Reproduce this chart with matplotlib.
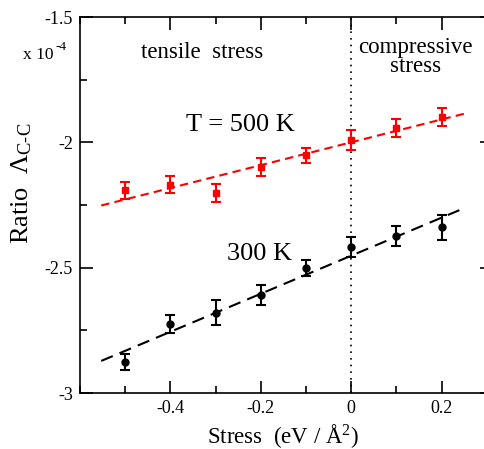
import matplotlib
matplotlib.use("Agg")
import matplotlib.pyplot as plt
from matplotlib.ticker import MultipleLocator, FuncFormatter, FixedLocator

# Data (values in units of 1e-4)
stress = [-0.5, -0.4, -0.3, -0.2, -0.1, 0.0, 0.1, 0.2]
ratio_500 = [-2.192, -2.169, -2.203, -2.099, -2.052, -1.989, -1.943, -1.899]
err_500 = [0.033, 0.035, 0.035, 0.035, 0.030, 0.040, 0.037, 0.036]
ratio_300 = [-2.876, -2.725, -2.679, -2.609, -2.501, -2.416, -2.373, -2.339]
err_300 = [0.031, 0.036, 0.050, 0.040, 0.031, 0.040, 0.040, 0.050]
fit_x = [-0.553, 0.252]
fit_500 = [-2.252, -1.885]
fit_300 = [-2.872, -2.261]
xticks = [-0.4, -0.2, 0.0, 0.2]
yticks = [-3.0, -2.5, -2.0, -1.5]

plt.rcParams['font.family'] = ['Liberation Serif', 'DejaVu Serif']
plt.rcParams['mathtext.fontset'] = 'custom'
plt.rcParams['mathtext.rm'] = 'Liberation Serif'
plt.rcParams['mathtext.it'] = 'Liberation Serif:italic'

W, H = 484, 449
fig = plt.figure(figsize=(W/100, H/100), dpi=100)
ax = fig.add_axes([80/W, (H-393)/H, 412/W, 376/H])

ax.set_xlim(-0.6, 0.3115)
ax.set_ylim(-3.0, -1.5)

ax.axvline(0, color='black', linestyle=(0, (1, 3)), linewidth=1.2)

ax.plot(fit_x, fit_500, color='#ff0000', linestyle=(0, (4, 2.5)), linewidth=1.5)
ax.plot(fit_x, fit_300, color='black', linestyle=(0, (6, 3.5)), linewidth=1.5)

ax.errorbar(stress, ratio_500, yerr=err_500, fmt='s', color='#ff0000',
            markersize=5, capsize=3.5, elinewidth=1.5, capthick=1.5)
ax.errorbar(stress, ratio_300, yerr=err_300, fmt='o', color='black',
            markersize=5, capsize=3.5, elinewidth=1.5, capthick=1.5)

ax.xaxis.set_major_locator(FixedLocator(xticks))
ax.xaxis.set_minor_locator(MultipleLocator(0.1))
ax.yaxis.set_major_locator(FixedLocator(yticks))
ax.yaxis.set_minor_locator(MultipleLocator(0.25))

def fmt(v, pos):
    s = ('%g' % round(v, 3))
    if s == '-0':
        s = '0'
    return s

ax.xaxis.set_major_formatter(FuncFormatter(fmt))
ax.yaxis.set_major_formatter(FuncFormatter(fmt))

ax.tick_params(which='both', direction='in', top=True, right=True, labelsize=13, width=1.2)
ax.tick_params(which='major', length=9, pad=5)
ax.tick_params(which='minor', length=5)
for sp in ax.spines.values():
    sp.set_linewidth(1.2)

ax.text(-0.330, -1.64, 'tensile  stress', fontsize=16.5, ha='center', va='center')
ax.text(0.143, -1.66, 'compressive\nstress', fontsize=16.5, ha='center', va='center',
        linespacing=0.9)
ax.text(-0.244, -1.932, 'T = 500 K', fontsize=19, ha='center', va='center')
ax.text(-0.202, -2.444, '300 K', fontsize=19, ha='center', va='center')

fig.text(283/W, 1-436/H, 'Stress  (eV / Å$^2$)', fontsize=16.5, ha='center', va='center')
fig.text(22/W, 1-183/H, r'Ratio  $\Lambda_{\rm C\text{-}C}$', fontsize=19, rotation=90,
         ha='center', va='center')
fig.text(23/W, 1-55/H, 'x 10', fontsize=12.5, ha='left', va='center')
fig.text(55/W, 1-47/H, '-4', fontsize=9.5, ha='left', va='center')

fig.savefig('out.png', dpi=100)
